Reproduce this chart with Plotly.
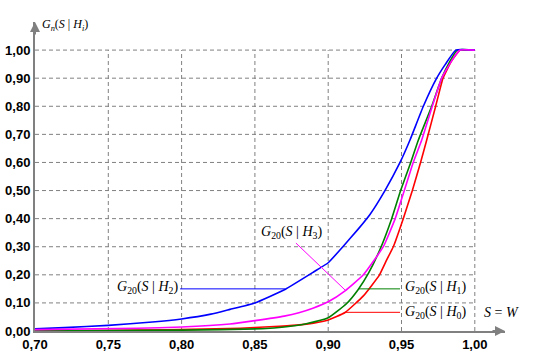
import plotly.graph_objects as go

# ---- data ----
x_h0 = [0.70, 0.79, 0.84, 0.86, 0.8785, 0.89, 0.90, 0.9115, 0.924, 0.935, 0.9399, 0.9444, 0.9512, 0.9574, 0.963, 0.9672, 0.9733, 0.9783, 0.984, 0.99, 1.00]
g_h0 = [0.0, 0.004, 0.01, 0.015, 0.021, 0.028, 0.039, 0.066, 0.125, 0.2, 0.253, 0.3, 0.4, 0.5, 0.6, 0.68, 0.8, 0.9, 0.96, 1.0, 1.0]

x_h1 = [0.70, 0.80, 0.855, 0.87, 0.885, 0.90, 0.9126, 0.9205, 0.9274, 0.9353, 0.9433, 0.9494, 0.9563, 0.9615, 0.9706, 0.9774, 0.983, 0.988, 1.00]
g_h1 = [0.0, 0.003, 0.008, 0.014, 0.026, 0.047, 0.098, 0.148, 0.205, 0.29, 0.4, 0.5, 0.6, 0.68, 0.8, 0.9, 0.96, 1.0, 1.0]

x_h2 = [0.70, 0.72, 0.75, 0.78, 0.80, 0.82, 0.833, 0.85, 0.8705, 0.89, 0.90, 0.91, 0.92, 0.9285, 0.9387, 0.949, 0.9558, 0.9649, 0.974, 0.98, 0.987, 1.00]
g_h2 = [0.008, 0.012, 0.02, 0.032, 0.043, 0.06, 0.077, 0.10, 0.148, 0.21, 0.243, 0.30, 0.36, 0.415, 0.5, 0.6, 0.68, 0.8, 0.9, 0.95, 1.0, 1.0]

x_h3 = [0.70, 0.77, 0.80, 0.833, 0.85, 0.87, 0.88, 0.89, 0.90, 0.9115, 0.924, 0.9376, 0.9457, 0.9519, 0.958, 0.9638, 0.971, 0.9774, 0.984, 0.99, 1.00]
g_h3 = [0.005, 0.01, 0.014, 0.025, 0.037, 0.053, 0.065, 0.082, 0.104, 0.143, 0.2, 0.3, 0.4, 0.5, 0.6, 0.68, 0.8, 0.9, 0.96, 1.0, 1.0]

x_ticks = [0.70, 0.75, 0.80, 0.85, 0.90, 0.95, 1.00]
y_ticks = [0.0, 0.1, 0.2, 0.3, 0.4, 0.5, 0.6, 0.7, 0.8, 0.9, 1.0]

# label leader lines: (x0, y0, x1, y1)
lead_h2 = (0.799, 0.15, 0.8705, 0.15)
lead_h1 = (0.9205, 0.15, 0.949, 0.15)
lead_h0 = (0.9115, 0.0665, 0.949, 0.0665)
lead_h3 = (0.878, 0.313, 0.9115, 0.146)

GRAY = "#808080"
SERIF = "Liberation Serif, Times New Roman, serif"

fig = go.Figure()
for xs, ys, col in [(x_h0, g_h0, "#FF0000"), (x_h1, g_h1, "#008000"),
                    (x_h2, g_h2, "#0000FF"), (x_h3, g_h3, "#FF00FF")]:
    fig.add_trace(go.Scatter(x=xs, y=ys, mode="lines",
                             line=dict(color=col, width=1.6, shape="spline", smoothing=0.4),
                             showlegend=False))

# dashed grid limited to [0.70,1.00]x[0,1]
for v in y_ticks[1:]:
    fig.add_shape(type="line", x0=x_ticks[0], x1=x_ticks[-1], y0=v, y1=v,
                  line=dict(color=GRAY, width=1, dash="4px,3px"), layer="below")
for v in x_ticks[1:]:
    fig.add_shape(type="line", x0=v, x1=v, y0=y_ticks[0], y1=y_ticks[-1],
                  line=dict(color=GRAY, width=1, dash="4px,3px"), layer="below")

for (x0, y0, x1, y1), col in [(lead_h2, "#0000FF"), (lead_h1, "#008000"),
                               (lead_h0, "#FF0000"), (lead_h3, "#FF00FF")]:
    fig.add_shape(type="line", x0=x0, y0=y0, x1=x1, y1=y1,
                  line=dict(color=col, width=1))

def lab(k):
    return f"<i>G</i><sub>20</sub>(<i>S</i> | <i>H</i><sub>{k}</sub>)"

lf = dict(family=SERIF, size=14, color="black")
fig.add_annotation(x=lead_h2[0], y=lead_h2[1], text=lab(2), showarrow=False,
                   xanchor="right", yanchor="middle", font=lf, xshift=0, yshift=1)
fig.add_annotation(x=lead_h1[2], y=lead_h1[3], text=lab(1), showarrow=False,
                   xanchor="left", yanchor="middle", font=lf, xshift=3, yshift=1)
fig.add_annotation(x=lead_h0[2], y=lead_h0[3], text=lab(0), showarrow=False,
                   xanchor="left", yanchor="middle", font=lf, xshift=3, yshift=0)
fig.add_annotation(x=lead_h3[0], y=lead_h3[1], text=lab(3), showarrow=False,
                   xanchor="center", yanchor="bottom", font=lf, yshift=0, xshift=-4)
fig.add_annotation(x=1.0047, y=0.0665, text="<i>S</i> = <i>W</i>", showarrow=False,
                   xanchor="left", yanchor="middle", font=lf)
fig.add_annotation(xref="paper", yref="paper", x=0, y=1, xshift=5, yshift=-3,
                   text="<i>G</i><sub><i>n</i></sub>(<i>S</i> | <i>H</i><sub><i>i</i></sub>)",
                   showarrow=False, xanchor="left", yanchor="middle",
                   font=dict(family=SERIF, size=12, color="black"))

# axis arrows
fig.add_annotation(xref="paper", yref="paper", x=0, y=1, ax=0, ay=14, text="",
                   showarrow=True, arrowhead=2, arrowsize=1, arrowwidth=2, arrowcolor=GRAY)
fig.add_annotation(xref="paper", yref="paper", x=1, y=0, ax=-14, ay=0, text="",
                   showarrow=True, arrowhead=2, arrowsize=1, arrowwidth=2, arrowcolor=GRAY)

tf = dict(family="Liberation Sans, Arial, sans-serif", size=13, color="black", weight="bold")
fig.update_layout(
    width=540, height=360,
    margin=dict(l=35, r=35, t=22, b=29, autoexpand=False),
    plot_bgcolor="white", paper_bgcolor="white",
    separators=",.",
    xaxis=dict(range=[0.70, 1.0206], tickvals=x_ticks, tickformat=".2f",
               showgrid=False, zeroline=False, showline=True, linecolor=GRAY,
               linewidth=2, ticks="", tickfont=tf, fixedrange=True, automargin=False),
    yaxis=dict(range=[0, 1.10], tickvals=y_ticks, tickformat=".2f",
               showgrid=False, zeroline=False, showline=True, linecolor=GRAY,
               linewidth=2, ticks="", tickfont=tf, fixedrange=True, automargin=False),
)

fig.write_html("out.html", config={"displayModeBar": False},
               post_script="document.body.style.margin='0';document.body.style.overflow='hidden';")
